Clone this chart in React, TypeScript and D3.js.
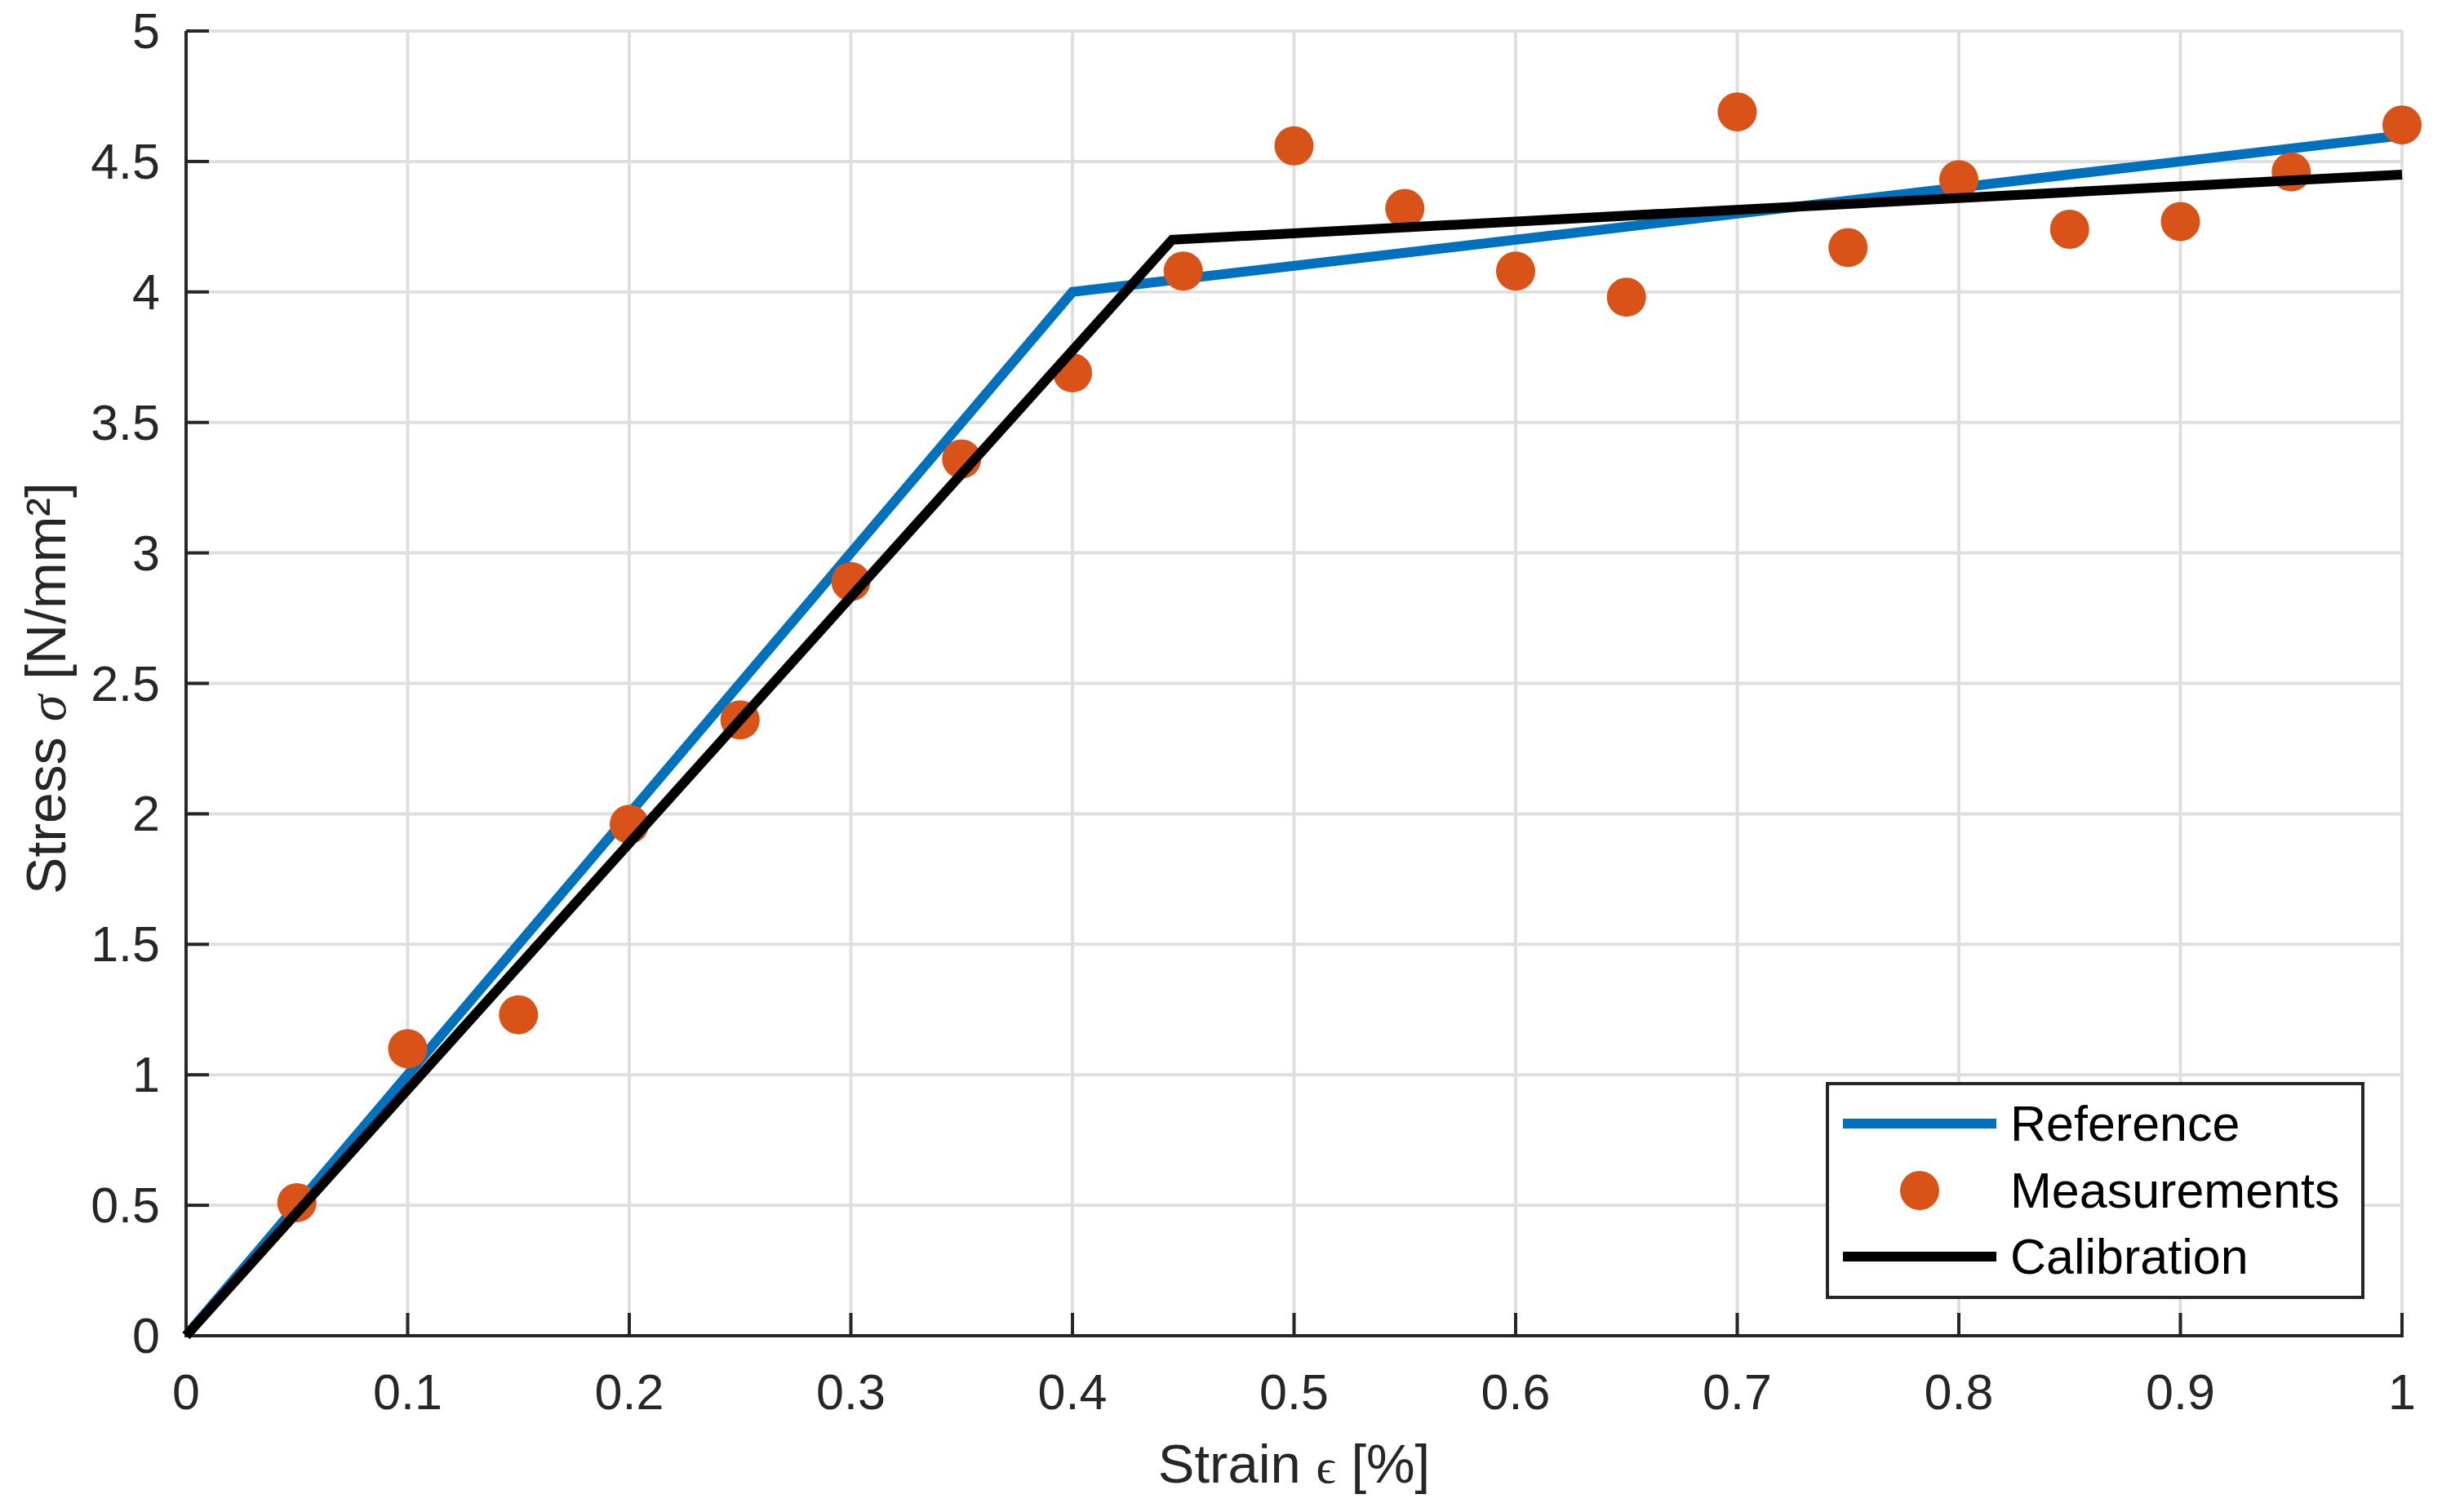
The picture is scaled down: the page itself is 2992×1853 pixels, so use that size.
import * as d3 from 'd3'

// Stress-strain data
const strain = [0.05, 0.1, 0.15, 0.2, 0.25, 0.3, 0.35, 0.4, 0.45, 0.5, 0.55, 0.6, 0.65, 0.7, 0.75, 0.8, 0.85, 0.9, 0.95, 1.0]
const measured = [0.51, 1.1, 1.23, 1.96, 2.36, 2.89, 3.36, 3.69, 4.08, 4.56, 4.32, 4.08, 3.98, 4.69, 4.17, 4.43, 4.24, 4.27, 4.46, 4.64]

const referenceX = [0, 0.4, 1]
const referenceY = [0, 4, 4.6]
const calibrationX = [0, 0.445, 1]
const calibrationY = [0, 4.2, 4.45]

const xTicks = [0, 0.1, 0.2, 0.3, 0.4, 0.5, 0.6, 0.7, 0.8, 0.9, 1]
const yTicks = [0, 0.5, 1, 1.5, 2, 2.5, 3, 3.5, 4, 4.5, 5]

const legendItems = ['Reference', 'Measurements', 'Calibration']

const W = 2992
const H = 1853
const margin = { left: 228, right: W - 2943, top: 38, bottom: H - 1637 }

const BLUE = '#0072BD'
const ORANGE = '#D95319'
const AXIS = '#262626'
const GRID = '#dfdfdf'
const FONT = '"Liberation Sans", Arial, Helvetica, sans-serif'
const SERIF = '"Liberation Serif", "DejaVu Serif", serif'

export default function App() {
  const x = d3.scaleLinear().domain([0, 1]).range([margin.left, W - margin.right])
  const y = d3.scaleLinear().domain([0, 5]).range([H - margin.bottom, margin.top])

  const line = d3
    .line<[number, number]>()
    .x((d) => x(d[0]))
    .y((d) => y(d[1]))

  const refPath = line(referenceX.map((v, i) => [v, referenceY[i]])) || ''
  const calPath = line(calibrationX.map((v, i) => [v, calibrationY[i]])) || ''

  const [x0, x1] = x.range()
  const [y0, y1] = y.range()
  const tickLen = 28

  // legend box
  const lg = { x: 2239, y: 1328, w: 656, h: 262 }
  const rowY = [1377, 1459, 1540]

  return (
    <svg
      width={W}
      height={H}
      style={{ position: 'absolute', left: 0, top: 0, background: '#fff' }}
      fontFamily={FONT}
    >
      <rect width={W} height={H} fill="#fff" />

      {/* grid */}
      <g stroke={GRID} strokeWidth={4}>
        {xTicks.map((t) => (
          <line key={'gx' + t} x1={x(t)} x2={x(t)} y1={y0} y2={y1} />
        ))}
        {yTicks.map((t) => (
          <line key={'gy' + t} x1={x0} x2={x1} y1={y(t)} y2={y(t)} />
        ))}
      </g>

      {/* axes */}
      <g stroke={AXIS} strokeWidth={4}>
        <line x1={x0} x2={x1 + 2} y1={y0} y2={y0} />
        <line x1={x0} x2={x0} y1={y0 + 2} y2={y1} />
        {xTicks.map((t) => (
          <line key={'tx' + t} x1={x(t)} x2={x(t)} y1={y0} y2={y0 - tickLen} />
        ))}
        {yTicks.map((t) => (
          <line key={'ty' + t} x1={x0} x2={x0 + tickLen} y1={y(t)} y2={y(t)} />
        ))}
      </g>

      {/* tick labels */}
      <g fill={AXIS} fontSize={61}>
        {xTicks.map((t) => (
          <text key={'lx' + t} x={x(t)} y={1727} textAnchor="middle">
            {String(t)}
          </text>
        ))}
        {yTicks.map((t) => (
          <text key={'ly' + t} x={196} y={y(t)} textAnchor="end" dominantBaseline="central">
            {String(t)}
          </text>
        ))}
      </g>

      {/* axis labels */}
      <text x={(x0 + x1) / 2} y={1817} textAnchor="middle" fontSize={67} fill={AXIS}>
        Strain{' '}
        <tspan fontFamily={SERIF} fontSize={60}>
          ϵ
        </tspan>{' '}
        [%]
      </text>
      <text
        transform={`translate(80,${(y0 + y1) / 2 + 6}) rotate(-90)`}
        textAnchor="middle"
        fontSize={68}
        fill={AXIS}
      >
        Stress{' '}
        <tspan fontFamily={SERIF} fontStyle="italic" fontSize={66}>
          σ
        </tspan>{' '}
        [N/mm²]
      </text>

      {/* series */}
      <path d={refPath} fill="none" stroke={BLUE} strokeWidth={12} />
      <g fill={ORANGE}>
        {strain.map((s, i) => (
          <circle key={'m' + i} cx={x(s)} cy={y(measured[i])} r={24} />
        ))}
      </g>
      <path d={calPath} fill="none" stroke="#000" strokeWidth={12} />

      {/* legend */}
      <rect x={lg.x} y={lg.y} width={lg.w} height={lg.h} fill="#fff" stroke={AXIS} strokeWidth={4} />
      <line x1={2258} x2={2446} y1={rowY[0]} y2={rowY[0]} stroke={BLUE} strokeWidth={12} />
      <circle cx={2352} cy={rowY[1]} r={24} fill={ORANGE} />
      <line x1={2258} x2={2446} y1={rowY[2]} y2={rowY[2]} stroke="#000" strokeWidth={12} />
      {legendItems.map((name, i) => (
        <text key={name} x={2463} y={rowY[i]} dominantBaseline="central" fontSize={61} fill="#000">
          {name}
        </text>
      ))}
    </svg>
  )
}
